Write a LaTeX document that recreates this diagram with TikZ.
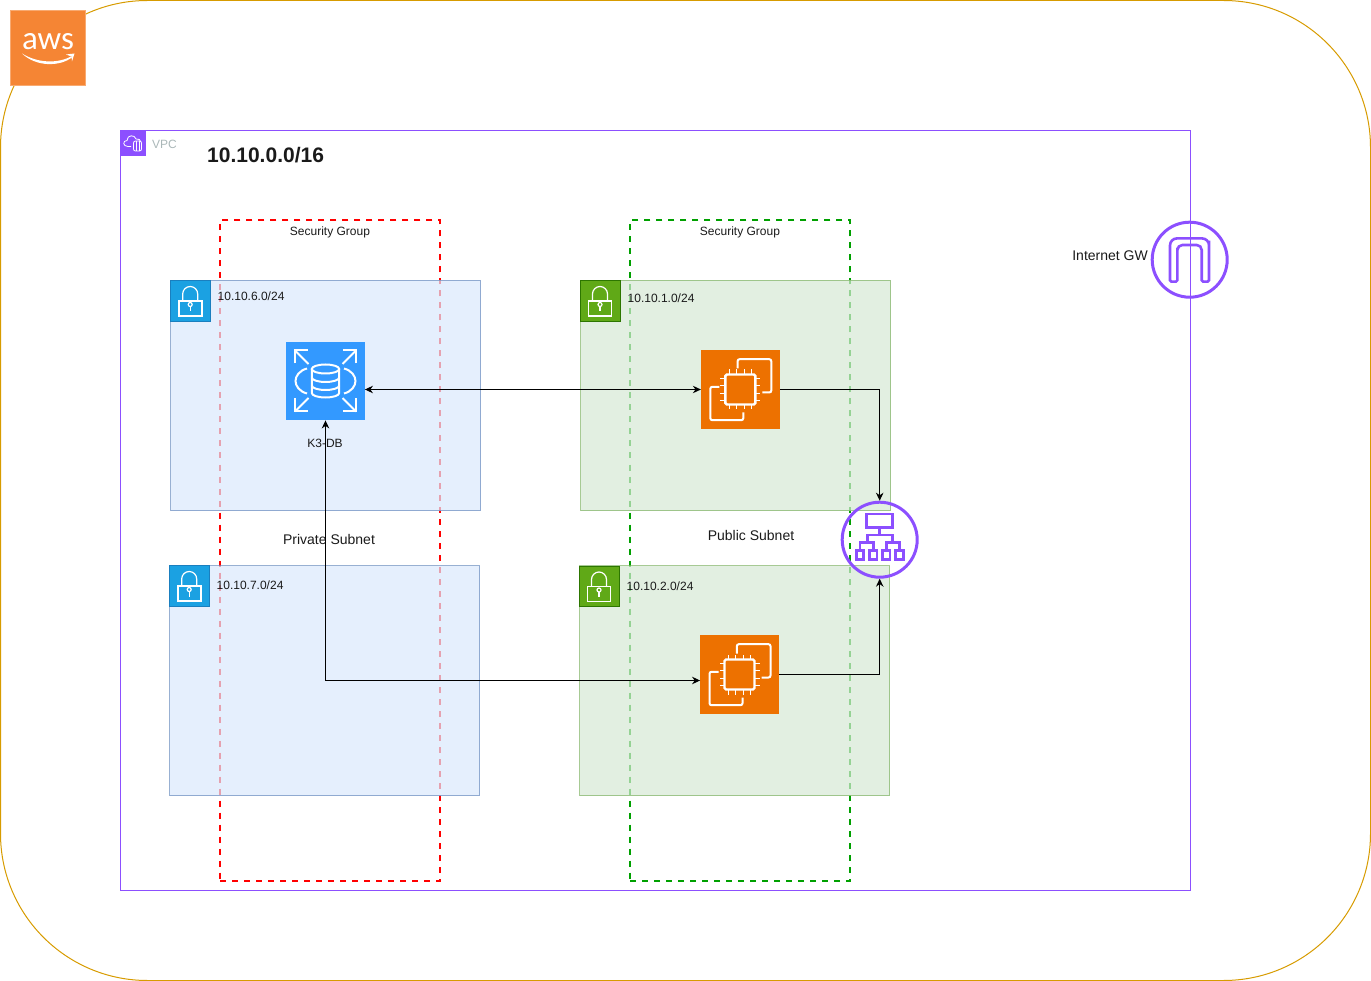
\documentclass[tikz,border=0pt]{standalone}
\usepackage{fontspec}
\setmainfont{Liberation Sans}
\newfontfamily\logofont{Carlito}
\usetikzlibrary{arrows.meta}

\definecolor{vpcpurple}{HTML}{8C4FFF}
\definecolor{cloudline}{HTML}{D79B00}
\definecolor{sgred}{HTML}{FF0000}
\definecolor{sggreen}{HTML}{00A000}
\definecolor{privfill}{HTML}{DAE8FC}
\definecolor{privline}{HTML}{6C8EBF}
\definecolor{pubfill}{HTML}{D5E8D4}
\definecolor{publine}{HTML}{82B366}
\definecolor{lockblue}{HTML}{1BA1E2}
\definecolor{lockblueline}{HTML}{1A7FBF}
\definecolor{lockgreen}{HTML}{60A917}
\definecolor{lockgreenline}{HTML}{2D7600}
\definecolor{rdsblue}{HTML}{3399FF}
\definecolor{ec2orange}{HTML}{ED7100}
\definecolor{awsorange}{HTML}{F58534}
\definecolor{vpcgrey}{HTML}{AAB7B8}
\definecolor{labelgrey}{HTML}{1A1A1A}

\tikzset{
    px12/.style={font=\fontsize{12}{14}\selectfont, text=labelgrey, inner sep=0pt},
    px14/.style={font=\fontsize{14}{16}\selectfont, text=labelgrey, inner sep=0pt},
    subnetpriv/.style={draw=privline, fill=privfill, opacity=0.7, minimum width=310pt, minimum height=230pt, inner sep=0pt, line width=1pt},
    subnetpub/.style={draw=publine, fill=pubfill, opacity=0.7, minimum width=310pt, minimum height=230pt, inner sep=0pt, line width=1pt},
    sgbox/.style={draw=#1, dash pattern=on 6pt off 6pt, line width=2pt, minimum width=220pt, minimum height=660pt, inner sep=0pt},
    lockbox/.style={draw=#1, minimum size=40.5pt, inner sep=0pt, line width=1pt},
    servicebox/.style={fill=#1, minimum size=78.5pt, inner sep=0pt},
    ringnode/.style={draw=vpcpurple, circle, line width=3pt, minimum size=75pt, inner sep=0pt},
    iconline/.style={draw=white, line width=2pt},
    conn/.style={draw=black, line width=1pt, >={Stealth[length=8pt,width=7.5pt]}},
    lockicon/.pic={
        \draw[iconline, line width=1.2pt] (-11.8,0) rectangle (11.2,15);
        \draw[iconline, line width=1.2pt] (-8,0) -- (-8,-7) arc[start angle=180, end angle=0, radius=7.5pt] -- (7,0);
        \draw[iconline, line width=1.2pt] (-0.5,3.5) circle (2pt);
        \draw[iconline, line width=1.2pt] (-0.5,5.5) -- (-0.5,10.5);
    },
    rdsicon/.pic={
        % the four corner arrows
        \foreach \sx/\sy in {-1/-1, 1/-1, -1/1, 1/1} {
            \draw[iconline] (17*\sx,17*\sy) -- (30.5*\sx,30.5*\sy);
            \draw[iconline] (30.5*\sx,17.5*\sy) -- (30.5*\sx,30.5*\sy) -- (17.5*\sx,30.5*\sy);
        }
        % the side arcs
        \draw[iconline] (-18.5,-12.5) .. controls (-26,-10.5) and (-30,-5) .. (-30,0) .. controls (-30,5) and (-26,10.5) .. (-18.5,12.5);
        \draw[iconline] (18.5,-12.5) .. controls (26,-10.5) and (30,-5) .. (30,0) .. controls (30,5) and (26,10.5) .. (18.5,12.5);
        % the drum in the middle
        \draw[iconline] (-13.7,-12) -- (-13.7,12) arc[start angle=180, end angle=360, x radius=13.7pt, y radius=4.5pt] -- (13.7,-12);
        \draw[iconline] (0,-12) ellipse (13.7pt and 4.5pt);
        \draw[iconline] (-13.7,-3.5) arc[start angle=180, end angle=360, x radius=13.7pt, y radius=4.5pt];
        \draw[iconline] (-13.7,4.5) arc[start angle=180, end angle=360, x radius=13.7pt, y radius=4.5pt];
    },
    ec2icon/.pic={
        \draw[iconline, line width=2.4pt, rounded corners=1.5pt] (-15,-15) rectangle (15,15);
        \foreach \p in {-11,-4,4,11} {
            \draw[iconline, line width=1.6pt] (\p,-15) -- (\p,-20);
            \draw[iconline, line width=1.6pt] (\p,15) -- (\p,20);
            \draw[iconline, line width=1.6pt] (-15,\p) -- (-20,\p);
            \draw[iconline, line width=1.6pt] (15,\p) -- (20,\p);
        }
        \draw[iconline, rounded corners=2pt] (-2.7,-21) -- (-2.7,-30.3) -- (31,-30.3) -- (31,3) -- (22,3);
        \draw[iconline, rounded corners=2pt] (-21,-2.7) -- (-30,-2.7) -- (-30,30.7) -- (3,30.7) -- (3,23);
    },
    lbicon/.pic={
        \begin{scope}[draw=vpcpurple, line width=2.8pt]
            \draw (-13.3,-25.7) rectangle (13,-12);
            \draw (0,-12) -- (0,-4.7);
            \draw (-12.5,2.7) -- (-12.5,-4.7) -- (12.5,-4.7) -- (12.5,2.7);
            \draw (-19.7,10.3) -- (-19.7,2.7) -- (-6.5,2.7) -- (-6.5,10.3);
            \draw (6.5,10.3) -- (6.5,2.7) -- (19.7,2.7) -- (19.7,10.3);
            \foreach \p in {-19.7,-6.5,6.5,19.7}
                \draw (\p-3.7,11) rectangle (\p+3.7,19.5);
        \end{scope}
    },
    igwicon/.pic={
        \draw[draw=vpcpurple, line width=2.6pt, rounded corners=1.5pt]
            (-19.7,22) -- (-19.7,-12) [rounded corners=7pt] -- (-19.7,-21.3) -- (19.3,-21.3) -- (19.3,-12)
            [rounded corners=1.5pt] -- (19.3,22) -- (12,22) -- (12,-7) [rounded corners=5pt] -- (12,-14.7) -- (-12.3,-14.7) -- (-12.3,-7)
            [rounded corners=1.5pt] -- (-12.3,22) -- cycle;
    },
    vpcicon/.pic={
        \draw[iconline, line width=0.8pt] (-2,3) -- (-5,3) .. controls (-10.5,3) and (-10.5,-3) .. (-6,-3) .. controls (-6,-9) and (2,-9) .. (3,-4.5) .. controls (5.5,-5) and (8,-3.5) .. (7.5,-2);
        \draw[iconline, line width=0.8pt, rounded corners=2pt] (0.5,-2.5) rectangle (8.5,7.5);
        \draw[iconline, line width=0.8pt] (3,-2.5) -- (3,7.5);
        \draw[iconline, line width=0.8pt] (6,-2.5) -- (6,7.5);
    }
}

\begin{document}
\begin{tikzpicture}[x=1pt, y=-1pt]
    \useasboundingbox (0,0) rectangle (1371,981);

    % Draw the outer cloud and the VPC
    \node[draw=cloudline, line width=1pt, rounded corners=147pt, minimum width=1370pt, minimum height=980pt, inner sep=0pt] (cloud) at (685.5,490.5) {};
    \node[draw=vpcpurple, line width=1pt, minimum width=1070pt, minimum height=760pt, inner sep=0pt] (vpc) at (655.5,510.5) {};

    % Draw the logo
    \node[fill=awsorange, draw=awsorange!70!white, line width=1pt, minimum size=75pt, inner sep=0pt] (logo) at (48,48) {};
    \node[font=\logofont\fontsize{33}{33}\selectfont, text=white, inner sep=0pt] (logotext) at (48,41.5) {aws};
    \fill[white] (22,53.5) .. controls (38,63.5) and (58,63.5) .. (71,56.5) -- (72.5,57) .. controls (60,67) and (36,67) .. (22,53.5) -- cycle;
    \fill[white] (66,54.5) -- (74.5,53.5) -- (72,61.5) -- (71.5,56.5) -- cycle;

    % Draw the VPC tag
    \node[fill=vpcpurple, minimum size=26pt, inner sep=0pt] (vpctag) at (133,143.5) {};
    \pic at (vpctag) {vpcicon};
    \node[px12, text=vpcgrey, anchor=west] (vpclabel) at (152,144) {VPC};
    \node[font=\bfseries\fontsize{21}{24}\selectfont, text=labelgrey, inner sep=0pt, anchor=west] (cidr) at (207,155.5) {10.10.0.0/16};

    % Draw the security groups
    \node[sgbox=sgred] (sgpriv) at (330.4,550.5) {};
    \node[sgbox=sggreen] (sgpub) at (740.4,550.5) {};
    \node[px12] (sgprivlabel) at (330,232.5) {Security Group};
    \node[px12] (sgpublabel) at (740,232.5) {Security Group};

    % Draw the subnets
    \node[subnetpriv] (privA) at (325.5,395.5) {};
    \node[subnetpriv] (privB) at (324.5,680.5) {};
    \node[subnetpub] (pubA) at (735.5,395.5) {};
    \node[subnetpub] (pubB) at (734.5,680.5) {};

    % Draw the lock tags and the ranges
    \node[lockbox=lockblueline, fill=lockblue] (lockPrivA) at (190.7,301) {};
    \node[lockbox=lockblueline, fill=lockblue] (lockPrivB) at (189.7,586) {};
    \node[lockbox=lockgreenline, fill=lockgreen] (lockPubA) at (600.5,301) {};
    \node[lockbox=lockgreenline, fill=lockgreen] (lockPubB) at (599.5,586.5) {};
    \pic at (lockPrivA) {lockicon};
    \pic at (lockPrivB) {lockicon};
    \pic at (lockPubA) {lockicon};
    \pic at (lockPubB) {lockicon};
    \node[px12, anchor=west] (rangePrivA) at (217.5,296.5) {10.10.6.0/24};
    \node[px12, anchor=west] (rangePrivB) at (216.5,585.5) {10.10.7.0/24};
    \node[px12, anchor=west] (rangePubA) at (627.5,298.5) {10.10.1.0/24};
    \node[px12, anchor=west] (rangePubB) at (626.5,586.5) {10.10.2.0/24};

    \node[px14] (privlabel) at (329,539.5) {Private Subnet};
    \node[px14] (publabel) at (751,535.5) {Public Subnet};

    % Draw the database and the two instances
    \node[servicebox=rdsblue] (rds) at (325.5,381) {};
    \pic at (rds) {rdsicon};
    \node[px12] (rdslabel) at (325,443.5) {K3-DB};
    \node[servicebox=ec2orange] (ec2a) at (740.3,389.5) {};
    \pic at (ec2a) {ec2icon};
    \node[servicebox=ec2orange] (ec2b) at (739.5,674.5) {};
    \pic at (ec2b) {ec2icon};

    % Draw the balancer and the gateway
    \node[ringnode] (lb) at (879.7,539.7) {};
    \pic at (lb) {lbicon};
    \node[ringnode] (igw) at (1189.7,259.7) {};
    \pic at (igw) {igwicon};
    \node[px14, anchor=east] (igwlabel) at (1148,255.5) {Internet GW};

    % Draw the connections
    \draw[conn, <->] (rds.east |- ec2a.west) -- (ec2a.west);
    \draw[conn, <->] (rds.south) |- ([yshift=-6pt]ec2b.west);
    \draw[conn, ->] (ec2a.east) -| (lb.north);
    \draw[conn, ->] (ec2b.east) -| (lb.south);
\end{tikzpicture}
\end{document}
